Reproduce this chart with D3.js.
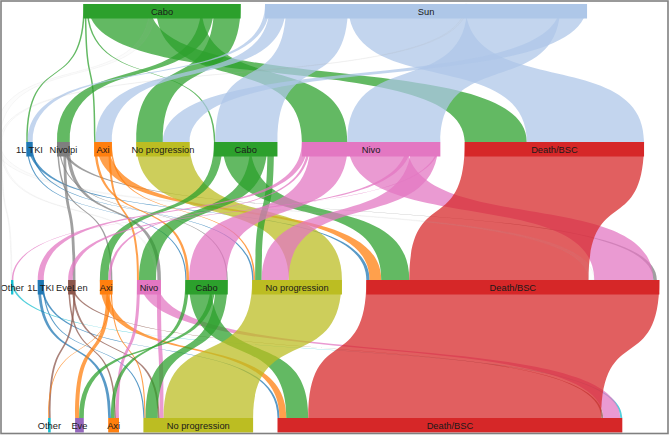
<!DOCTYPE html>
<html><head><meta charset="utf-8">
<script src="https://cdn.jsdelivr.net/npm/d3@7"></script>
<style>body{margin:0;background:#fff} svg{display:block}</style>
</head><body>
<svg id="chart" width="671" height="437"></svg>
<script>
// ---- DATA ----
const levelNames = [
  ["Cabo", "Sun"],
  ["1L TKI", "Nivolpi", "Axi", "No progression", "Cabo", "Nivo", "Death/BSC"],
  ["Other", "1L TKI", "EveLen", "Axi", "Nivo", "Cabo", "No progression", "Death/BSC"],
  ["Other", "Eve", "Axi", "No progression", "Death/BSC"]
];
// nodes present in the data but not drawn (patients lost / re-entering)
const hiddenNodes = [[1, "Missing"]];

// flows line 1 -> line 2  [source, target, value]
const flows01 = [
  ["Cabo", "1L TKI", 1.5], ["Cabo", "Axi", 1.5], ["Cabo", "Cabo", 1.5], ["Cabo", "Death/BSC", 62],
  ["Cabo", "Missing", 6], ["Cabo", "Nivo", 45.5], ["Cabo", "Nivolpi", 12.7], ["Cabo", "No progression", 26.6],
  ["Sun", "1L TKI", 4.8], ["Sun", "Axi", 16.2], ["Sun", "Cabo", 62], ["Sun", "Death/BSC", 117.3],
  ["Sun", "Missing", 2], ["Sun", "Nivo", 93], ["Sun", "No progression", 26.7]
];
// flows line 2 -> line 3
const flows12 = [
  ["1L TKI", "Cabo", 1.2], ["1L TKI", "Death/BSC", 3.2], ["1L TKI", "No progression", 1.5],
  ["Nivolpi", "Axi", 1.5], ["Nivolpi", "Cabo", 1.2], ["Nivolpi", "Death/BSC", 3.6], ["Nivolpi", "EveLen", 2.8], ["Nivolpi", "Nivo", 3.5],
  ["Axi", "Cabo", 2.5], ["Axi", "Death/BSC", 11.7], ["Axi", "Nivo", 2], ["Axi", "No progression", 1.5],
  ["No progression", "No progression", 53.3],
  ["Cabo", "Axi", 8.5], ["Cabo", "Death/BSC", 28], ["Cabo", "Nivo", 17], ["Cabo", "No progression", 6.5],
  ["Nivo", "1L TKI", 6], ["Nivo", "Axi", 2.5], ["Nivo", "Cabo", 37.5], ["Nivo", "Death/BSC", 59],
  ["Nivo", "EveLen", 4.5], ["Nivo", "No progression", 27], ["Nivo", "Other", 1.5],
  ["Death/BSC", "Death/BSC", 179.3],
  ["Missing", "Death/BSC", 5.7], ["Missing", "Nivo", 1.5], ["Missing", "Other", 0.8]
];
// flows line 3 -> line 4
const flows23 = [
  ["Other", "Death/BSC", 2],
  ["1L TKI", "Axi", 2.8], ["1L TKI", "Death/BSC", 2], ["1L TKI", "No progression", 1.2],
  ["EveLen", "Axi", 1.5], ["EveLen", "Death/BSC", 2], ["EveLen", "No progression", 2], ["EveLen", "Other", 1.8],
  ["Axi", "Death/BSC", 6.8], ["Axi", "Eve", 4], ["Axi", "No progression", 1.1], ["Axi", "Other", 0.8],
  ["Nivo", "Axi", 3], ["Nivo", "Death/BSC", 17], ["Nivo", "No progression", 4],
  ["Cabo", "Axi", 3.5], ["Cabo", "Death/BSC", 22], ["Cabo", "Eve", 4.7], ["Cabo", "No progression", 12],
  ["No progression", "No progression", 89.4],
  ["Death/BSC", "Death/BSC", 293]
];
const colorNames = ["Cabo", "Sun", "1L TKI", "Nivolpi", "Axi", "No progression", "Nivo", "Death/BSC", "Other", "EveLen", "Eve", "Missing"];
const colorValues = ["#2ca02c", "#aec7e8", "#1f77b4", "#7f7f7f", "#ff7f0e", "#bcbd22", "#e377c2", "#d62728", "#17becf", "#8c564b", "#9467bd", "#9a9a9a"];

// ---- LAYOUT ----
const color = d3.scaleOrdinal().domain(colorNames).range(colorValues);
const centerX = 335.2, gap = 24.4, nodeH = 14.5;
const yScale = d3.scaleLinear().domain([0, levelNames.length - 1]).range([4, 418]);

const nodes = new Map();
const key = (lv, n) => lv + "|" + n;
levelNames.forEach((names, lv) => names.forEach(n => nodes.set(key(lv, n), {lv, name: n, hidden: false, ins: [], outs: []})));
hiddenNodes.forEach(([lv, n]) => nodes.set(key(lv, n), {lv, name: n, hidden: true, ins: [], outs: []}));

const links = [];
[flows01, flows12, flows23].forEach((arr, lv) => arr.forEach(([s, t, v]) => {
  const l = {source: nodes.get(key(lv, s)), target: nodes.get(key(lv + 1, t)), value: v};
  l.source.outs.push(l); l.target.ins.push(l); links.push(l);
}));
nodes.forEach(n => n.value = Math.max(d3.sum(n.ins, l => l.value), d3.sum(n.outs, l => l.value)));

const levels = levelNames.map((names, lv) => names.map(n => nodes.get(key(lv, n))));
const levelTotals = levels.map(ns => d3.sum(ns, n => n.value));
const widest = d3.maxIndex(levels, ns => d3.sum(ns, n => n.value) + (ns.length - 1) * 1000);
const k = (648.3 - (levels[widest].length - 1) * gap) / levelTotals[widest];
const w = d3.scaleLinear().domain([0, 1]).range([0, k]);

levels.forEach((ns, lv) => {
  const sorted = ns.slice().sort((a, b) => d3.ascending(a.value, b.value));
  const total = d3.sum(sorted, n => w(n.value)) + (sorted.length - 1) * gap;
  let x = centerX - total / 2;
  sorted.forEach(n => { n.x = x; n.w = w(n.value); n.y = yScale(lv); x += n.w + gap; });
  hiddenNodes.filter(h => h[0] === lv).forEach(([, name]) => {
    const h = nodes.get(key(lv, name));
    h.w = w(h.value); h.x = sorted[0].x - gap - h.w; h.y = yScale(lv);
  });
});
nodes.forEach(n => {
  let o = n.x;
  n.outs.slice().sort((a, b) => d3.ascending(a.target.name, b.target.name)).forEach(l => { l.sx = o; l.w = w(l.value); o += l.w; });
  let i = n.x;
  n.ins.slice().sort((a, b) => d3.ascending(a.source.name, b.source.name)).forEach(l => { l.tx = i; i += w(l.value); });
});

// ribbon runs from the source node's top (hidden under the node) to the target node's top
function ribbon(l) {
  const sy = l.source.y, ty = l.target.y, d = ty - sy, c = 0.7;
  const p = d3.path();
  p.moveTo(l.sx, sy);
  p.bezierCurveTo(l.sx, sy + c * d, l.tx, ty - c * d, l.tx, ty);
  p.lineTo(l.tx + l.w, ty);
  p.bezierCurveTo(l.tx + l.w, ty - c * d, l.sx + l.w, sy + c * d, l.sx + l.w, sy);
  p.closePath();
  return p.toString();
}

// ---- DRAW ----
const svg = d3.select("#chart");
svg.append("rect").attr("width", 671).attr("height", 437).attr("fill", "#fff");

const g = svg.append("g");
const isHidden = l => l.source.hidden || l.target.hidden;
g.selectAll("path.link").data(links).join("path")
  .attr("class", "link")
  .attr("d", ribbon)
  .attr("fill", l => isHidden(l) ? "#cccccc" : color(l.source.name))
  .attr("fill-opacity", l => isHidden(l) ? 0.05 : 0.74)
  .attr("stroke", l => isHidden(l) ? "#aaa" : "none")
  .attr("stroke-opacity", 0.18)
  .attr("stroke-width", 0.5);

const visible = Array.from(nodes.values()).filter(n => !n.hidden);
g.selectAll("rect.node").data(visible).join("rect")
  .attr("class", "node")
  .attr("x", n => n.x).attr("y", n => n.y)
  .attr("width", n => n.w).attr("height", nodeH)
  .attr("fill", n => color(n.name));

g.selectAll("text.label").data(visible).join("text")
  .attr("class", "label")
  .attr("x", n => n.x + n.w / 2).attr("y", n => n.y + nodeH / 2)
  .attr("dy", "0.36em")
  .attr("text-anchor", "middle")
  .attr("font-family", "'Liberation Sans', Arial, sans-serif")
  .attr("font-size", 9.3)
  .attr("fill", "#1a1a1a")
  .text(n => n.name);

svg.append("rect").attr("x", 1).attr("y", 1).attr("width", 667).attr("height", 432.5)
  .attr("fill", "none").attr("stroke", "#808080").attr("stroke-width", 1.6);
</script>
</body></html>
